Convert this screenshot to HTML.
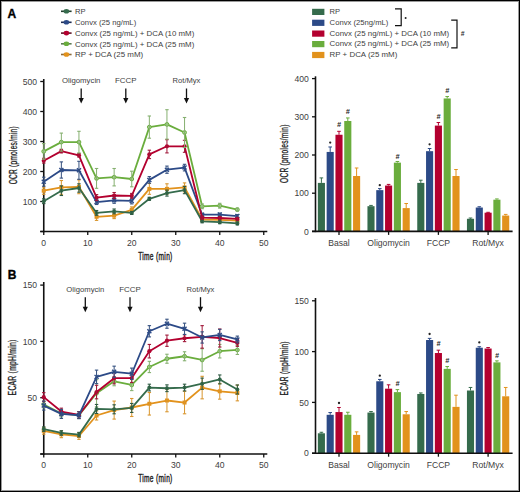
<!DOCTYPE html>
<html><head><meta charset="utf-8"><style>
html,body{margin:0;padding:0;background:#fff;}
#fig{position:relative;width:520px;height:492px;overflow:hidden;font-family:"Liberation Sans",sans-serif;}
#fig svg{display:block;position:absolute;left:0;top:0;}
svg text{font-family:"Liberation Sans",sans-serif;}
#frame{position:absolute;left:0;top:0;width:518px;height:490px;border:1px solid #000;box-shadow:inset 0 0 0 1px #9a9a9a;pointer-events:none;}
</style></head><body><div id="fig">
<svg width="520" height="492" viewBox="0 0 520 492" font-family="Liberation Sans, sans-serif">
<rect x="0" y="0" width="520" height="492" fill="#fff"/>
<text x="7.60" y="17.60" font-size="12" text-anchor="start" fill="#000" font-weight="bold" stroke="#000" stroke-width="0.35">A</text>
<text x="7.80" y="278.80" font-size="12" text-anchor="start" fill="#000" font-weight="bold" stroke="#000" stroke-width="0.35">B</text>
<line x1="61.00" y1="11.30" x2="71.60" y2="11.30" stroke="#203c2c" stroke-width="1.6"/>
<ellipse cx="66.4" cy="11.30" rx="2.8" ry="2.3" fill="#356b4c"/>
<text x="75.00" y="14.25" font-size="8.1" text-anchor="start" fill="#404040" textLength="10.6" lengthAdjust="spacingAndGlyphs">RP</text>
<line x1="61.00" y1="22.30" x2="71.60" y2="22.30" stroke="#1e2c52" stroke-width="1.6"/>
<ellipse cx="66.4" cy="22.30" rx="2.8" ry="2.3" fill="#2c4a87"/>
<text x="75.00" y="25.25" font-size="8.1" text-anchor="start" fill="#404040" textLength="61.2" lengthAdjust="spacingAndGlyphs">Convx (25 ng/mL)</text>
<line x1="61.00" y1="33.10" x2="71.60" y2="33.10" stroke="#5c1424" stroke-width="1.6"/>
<ellipse cx="66.4" cy="33.10" rx="2.8" ry="2.3" fill="#b3002f"/>
<text x="75.00" y="36.05" font-size="8.1" text-anchor="start" fill="#404040" textLength="119.3" lengthAdjust="spacingAndGlyphs">Convx (25 ng/mL) + DCA (10 mM)</text>
<line x1="61.00" y1="43.80" x2="71.60" y2="43.80" stroke="#5d7a52" stroke-width="1.6"/>
<ellipse cx="66.4" cy="43.80" rx="2.8" ry="2.3" fill="#6aad3d"/>
<text x="75.00" y="46.75" font-size="8.1" text-anchor="start" fill="#404040" textLength="119.3" lengthAdjust="spacingAndGlyphs">Convx (25 ng/mL) + DCA (25 mM)</text>
<line x1="61.00" y1="54.50" x2="71.60" y2="54.50" stroke="#8a6a3a" stroke-width="1.6"/>
<ellipse cx="66.4" cy="54.50" rx="2.8" ry="2.3" fill="#e2921c"/>
<text x="75.00" y="57.45" font-size="8.1" text-anchor="start" fill="#404040" textLength="68.2" lengthAdjust="spacingAndGlyphs">RP + DCA (25 mM)</text>
<rect x="312.10" y="8.80" width="12.30" height="6.20" fill="#356b4c"/>
<text x="329.60" y="14.05" font-size="8.1" text-anchor="start" fill="#404040" textLength="10.6" lengthAdjust="spacingAndGlyphs">RP</text>
<rect x="312.10" y="19.70" width="12.30" height="6.20" fill="#2c4a87"/>
<text x="329.60" y="24.95" font-size="8.1" text-anchor="start" fill="#404040" textLength="58.8" lengthAdjust="spacingAndGlyphs">Convx (25ng/mL)</text>
<rect x="312.10" y="30.50" width="12.30" height="6.20" fill="#b3002f"/>
<text x="329.60" y="35.75" font-size="8.1" text-anchor="start" fill="#404040" textLength="119.6" lengthAdjust="spacingAndGlyphs">Convx (25 ng/mL) + DCA (10 mM)</text>
<rect x="312.10" y="41.00" width="12.30" height="6.20" fill="#6aad3d"/>
<text x="329.60" y="46.25" font-size="8.1" text-anchor="start" fill="#404040" textLength="119.6" lengthAdjust="spacingAndGlyphs">Convx (25 ng/mL) + DCA (25 mM)</text>
<rect x="312.10" y="51.90" width="12.30" height="6.20" fill="#e2921c"/>
<text x="329.60" y="57.15" font-size="8.1" text-anchor="start" fill="#404040" textLength="67.7" lengthAdjust="spacingAndGlyphs">RP + DCA (25 mM)</text>
<path d="M395,8.9 L401.2,8.9 L401.2,25.6 L395,25.6" fill="none" stroke="#111" stroke-width="1.2"/>
<circle cx="405.6" cy="18" r="1.0" fill="#222"/>
<path d="M451.2,20.2 L457,20.2 L457,47.8 L451.2,47.8" fill="none" stroke="#111" stroke-width="1.2"/>
<text x="462.60" y="36.20" font-size="6.6" text-anchor="middle" fill="#2a2a2a" font-weight="bold" font-style="italic">#</text>
<line x1="43.75" y1="79.00" x2="43.75" y2="232.25" stroke="#111" stroke-width="1.6"/>
<line x1="40.25" y1="231.50" x2="267.30" y2="231.50" stroke="#111" stroke-width="1.6"/>
<line x1="40.25" y1="81.50" x2="43.75" y2="81.50" stroke="#111" stroke-width="1.3"/>
<text x="37.00" y="84.60" font-size="8.6" text-anchor="end" fill="#404040">500</text>
<line x1="40.25" y1="111.50" x2="43.75" y2="111.50" stroke="#111" stroke-width="1.3"/>
<text x="37.00" y="114.60" font-size="8.6" text-anchor="end" fill="#404040">400</text>
<line x1="40.25" y1="141.50" x2="43.75" y2="141.50" stroke="#111" stroke-width="1.3"/>
<text x="37.00" y="144.60" font-size="8.6" text-anchor="end" fill="#404040">300</text>
<line x1="40.25" y1="171.50" x2="43.75" y2="171.50" stroke="#111" stroke-width="1.3"/>
<text x="37.00" y="174.60" font-size="8.6" text-anchor="end" fill="#404040">200</text>
<line x1="40.25" y1="201.50" x2="43.75" y2="201.50" stroke="#111" stroke-width="1.3"/>
<text x="37.00" y="204.60" font-size="8.6" text-anchor="end" fill="#404040">100</text>
<line x1="40.25" y1="231.50" x2="43.75" y2="231.50" stroke="#111" stroke-width="1.3"/>
<line x1="43.75" y1="231.50" x2="43.75" y2="235.00" stroke="#111" stroke-width="1.3"/>
<text x="43.75" y="245.90" font-size="8.6" text-anchor="middle" fill="#404040">0</text>
<line x1="87.75" y1="231.50" x2="87.75" y2="235.00" stroke="#111" stroke-width="1.3"/>
<text x="87.75" y="245.90" font-size="8.6" text-anchor="middle" fill="#404040">10</text>
<line x1="131.75" y1="231.50" x2="131.75" y2="235.00" stroke="#111" stroke-width="1.3"/>
<text x="131.75" y="245.90" font-size="8.6" text-anchor="middle" fill="#404040">20</text>
<line x1="175.75" y1="231.50" x2="175.75" y2="235.00" stroke="#111" stroke-width="1.3"/>
<text x="175.75" y="245.90" font-size="8.6" text-anchor="middle" fill="#404040">30</text>
<line x1="219.75" y1="231.50" x2="219.75" y2="235.00" stroke="#111" stroke-width="1.3"/>
<text x="219.75" y="245.90" font-size="8.6" text-anchor="middle" fill="#404040">40</text>
<line x1="263.75" y1="231.50" x2="263.75" y2="235.00" stroke="#111" stroke-width="1.3"/>
<text x="263.75" y="245.90" font-size="8.6" text-anchor="middle" fill="#404040">50</text>
<polyline points="43.75,190.70 61.35,187.40 78.95,186.80 96.55,216.80 114.15,215.60 131.75,209.90 149.35,188.90 166.95,188.90 184.55,187.40 202.15,219.50 219.75,219.80 237.35,220.70" fill="none" stroke="#e2921c" stroke-width="1.8" stroke-linejoin="round"/>
<rect x="41.75" y="188.70" width="4" height="4" fill="#e2921c"/>
<rect x="59.35" y="185.40" width="4" height="4" fill="#e2921c"/>
<rect x="76.95" y="184.80" width="4" height="4" fill="#e2921c"/>
<rect x="94.55" y="214.80" width="4" height="4" fill="#e2921c"/>
<rect x="112.15" y="213.60" width="4" height="4" fill="#e2921c"/>
<rect x="129.75" y="207.90" width="4" height="4" fill="#e2921c"/>
<rect x="147.35" y="186.90" width="4" height="4" fill="#e2921c"/>
<rect x="164.95" y="186.90" width="4" height="4" fill="#e2921c"/>
<rect x="182.55" y="185.40" width="4" height="4" fill="#e2921c"/>
<rect x="200.15" y="217.50" width="4" height="4" fill="#e2921c"/>
<rect x="217.75" y="217.80" width="4" height="4" fill="#e2921c"/>
<rect x="235.35" y="218.70" width="4" height="4" fill="#e2921c"/>
<line x1="43.75" y1="187.10" x2="43.75" y2="194.30" stroke="#d9962e" stroke-width="1.0"/>
<line x1="42.05" y1="187.10" x2="45.45" y2="187.10" stroke="#d9962e" stroke-width="1.1"/>
<line x1="42.05" y1="194.30" x2="45.45" y2="194.30" stroke="#d9962e" stroke-width="1.1"/>
<line x1="61.35" y1="180.50" x2="61.35" y2="194.30" stroke="#d9962e" stroke-width="1.0"/>
<line x1="59.65" y1="180.50" x2="63.05" y2="180.50" stroke="#d9962e" stroke-width="1.1"/>
<line x1="59.65" y1="194.30" x2="63.05" y2="194.30" stroke="#d9962e" stroke-width="1.1"/>
<line x1="78.95" y1="179.90" x2="78.95" y2="193.70" stroke="#d9962e" stroke-width="1.0"/>
<line x1="77.25" y1="179.90" x2="80.65" y2="179.90" stroke="#d9962e" stroke-width="1.1"/>
<line x1="77.25" y1="193.70" x2="80.65" y2="193.70" stroke="#d9962e" stroke-width="1.1"/>
<line x1="96.55" y1="213.20" x2="96.55" y2="220.40" stroke="#d9962e" stroke-width="1.0"/>
<line x1="94.85" y1="213.20" x2="98.25" y2="213.20" stroke="#d9962e" stroke-width="1.1"/>
<line x1="94.85" y1="220.40" x2="98.25" y2="220.40" stroke="#d9962e" stroke-width="1.1"/>
<line x1="114.15" y1="212.60" x2="114.15" y2="218.60" stroke="#d9962e" stroke-width="1.0"/>
<line x1="112.45" y1="212.60" x2="115.85" y2="212.60" stroke="#d9962e" stroke-width="1.1"/>
<line x1="112.45" y1="218.60" x2="115.85" y2="218.60" stroke="#d9962e" stroke-width="1.1"/>
<line x1="131.75" y1="206.90" x2="131.75" y2="212.90" stroke="#d9962e" stroke-width="1.0"/>
<line x1="130.05" y1="206.90" x2="133.45" y2="206.90" stroke="#d9962e" stroke-width="1.1"/>
<line x1="130.05" y1="212.90" x2="133.45" y2="212.90" stroke="#d9962e" stroke-width="1.1"/>
<line x1="149.35" y1="183.50" x2="149.35" y2="194.30" stroke="#d9962e" stroke-width="1.0"/>
<line x1="147.65" y1="183.50" x2="151.05" y2="183.50" stroke="#d9962e" stroke-width="1.1"/>
<line x1="147.65" y1="194.30" x2="151.05" y2="194.30" stroke="#d9962e" stroke-width="1.1"/>
<line x1="166.95" y1="183.80" x2="166.95" y2="194.00" stroke="#d9962e" stroke-width="1.0"/>
<line x1="165.25" y1="183.80" x2="168.65" y2="183.80" stroke="#d9962e" stroke-width="1.1"/>
<line x1="165.25" y1="194.00" x2="168.65" y2="194.00" stroke="#d9962e" stroke-width="1.1"/>
<line x1="184.55" y1="182.90" x2="184.55" y2="191.90" stroke="#d9962e" stroke-width="1.0"/>
<line x1="182.85" y1="182.90" x2="186.25" y2="182.90" stroke="#d9962e" stroke-width="1.1"/>
<line x1="182.85" y1="191.90" x2="186.25" y2="191.90" stroke="#d9962e" stroke-width="1.1"/>
<line x1="202.15" y1="218.00" x2="202.15" y2="221.00" stroke="#d9962e" stroke-width="1.0"/>
<line x1="200.45" y1="218.00" x2="203.85" y2="218.00" stroke="#d9962e" stroke-width="1.1"/>
<line x1="200.45" y1="221.00" x2="203.85" y2="221.00" stroke="#d9962e" stroke-width="1.1"/>
<line x1="219.75" y1="218.30" x2="219.75" y2="221.30" stroke="#d9962e" stroke-width="1.0"/>
<line x1="218.05" y1="218.30" x2="221.45" y2="218.30" stroke="#d9962e" stroke-width="1.1"/>
<line x1="218.05" y1="221.30" x2="221.45" y2="221.30" stroke="#d9962e" stroke-width="1.1"/>
<line x1="237.35" y1="219.20" x2="237.35" y2="222.20" stroke="#d9962e" stroke-width="1.0"/>
<line x1="235.65" y1="219.20" x2="239.05" y2="219.20" stroke="#d9962e" stroke-width="1.1"/>
<line x1="235.65" y1="222.20" x2="239.05" y2="222.20" stroke="#d9962e" stroke-width="1.1"/>
<polyline points="43.75,201.20 61.35,190.70 78.95,188.00 96.55,212.90 114.15,211.40 131.75,212.90 149.35,198.80 166.95,193.10 184.55,190.10 202.15,221.30 219.75,222.20 237.35,223.40" fill="none" stroke="#356b4c" stroke-width="1.8" stroke-linejoin="round"/>
<circle cx="43.75" cy="201.20" r="2.0" fill="#356b4c"/>
<circle cx="61.35" cy="190.70" r="2.0" fill="#356b4c"/>
<circle cx="78.95" cy="188.00" r="2.0" fill="#356b4c"/>
<circle cx="96.55" cy="212.90" r="2.0" fill="#356b4c"/>
<circle cx="114.15" cy="211.40" r="2.0" fill="#356b4c"/>
<circle cx="131.75" cy="212.90" r="2.0" fill="#356b4c"/>
<circle cx="149.35" cy="198.80" r="2.0" fill="#356b4c"/>
<circle cx="166.95" cy="193.10" r="2.0" fill="#356b4c"/>
<circle cx="184.55" cy="190.10" r="2.0" fill="#356b4c"/>
<circle cx="202.15" cy="221.30" r="2.0" fill="#356b4c"/>
<circle cx="219.75" cy="222.20" r="2.0" fill="#356b4c"/>
<circle cx="237.35" cy="223.40" r="2.0" fill="#356b4c"/>
<line x1="43.75" y1="198.80" x2="43.75" y2="203.60" stroke="#2e5a42" stroke-width="1.0"/>
<line x1="42.05" y1="198.80" x2="45.45" y2="198.80" stroke="#2e5a42" stroke-width="1.1"/>
<line x1="42.05" y1="203.60" x2="45.45" y2="203.60" stroke="#2e5a42" stroke-width="1.1"/>
<line x1="61.35" y1="185.90" x2="61.35" y2="195.50" stroke="#2e5a42" stroke-width="1.0"/>
<line x1="59.65" y1="185.90" x2="63.05" y2="185.90" stroke="#2e5a42" stroke-width="1.1"/>
<line x1="59.65" y1="195.50" x2="63.05" y2="195.50" stroke="#2e5a42" stroke-width="1.1"/>
<line x1="78.95" y1="183.80" x2="78.95" y2="192.20" stroke="#2e5a42" stroke-width="1.0"/>
<line x1="77.25" y1="183.80" x2="80.65" y2="183.80" stroke="#2e5a42" stroke-width="1.1"/>
<line x1="77.25" y1="192.20" x2="80.65" y2="192.20" stroke="#2e5a42" stroke-width="1.1"/>
<line x1="96.55" y1="210.50" x2="96.55" y2="215.30" stroke="#2e5a42" stroke-width="1.0"/>
<line x1="94.85" y1="210.50" x2="98.25" y2="210.50" stroke="#2e5a42" stroke-width="1.1"/>
<line x1="94.85" y1="215.30" x2="98.25" y2="215.30" stroke="#2e5a42" stroke-width="1.1"/>
<line x1="114.15" y1="209.00" x2="114.15" y2="213.80" stroke="#2e5a42" stroke-width="1.0"/>
<line x1="112.45" y1="209.00" x2="115.85" y2="209.00" stroke="#2e5a42" stroke-width="1.1"/>
<line x1="112.45" y1="213.80" x2="115.85" y2="213.80" stroke="#2e5a42" stroke-width="1.1"/>
<line x1="131.75" y1="211.40" x2="131.75" y2="214.40" stroke="#2e5a42" stroke-width="1.0"/>
<line x1="130.05" y1="211.40" x2="133.45" y2="211.40" stroke="#2e5a42" stroke-width="1.1"/>
<line x1="130.05" y1="214.40" x2="133.45" y2="214.40" stroke="#2e5a42" stroke-width="1.1"/>
<line x1="149.35" y1="197.30" x2="149.35" y2="200.30" stroke="#2e5a42" stroke-width="1.0"/>
<line x1="147.65" y1="197.30" x2="151.05" y2="197.30" stroke="#2e5a42" stroke-width="1.1"/>
<line x1="147.65" y1="200.30" x2="151.05" y2="200.30" stroke="#2e5a42" stroke-width="1.1"/>
<line x1="166.95" y1="190.10" x2="166.95" y2="196.10" stroke="#2e5a42" stroke-width="1.0"/>
<line x1="165.25" y1="190.10" x2="168.65" y2="190.10" stroke="#2e5a42" stroke-width="1.1"/>
<line x1="165.25" y1="196.10" x2="168.65" y2="196.10" stroke="#2e5a42" stroke-width="1.1"/>
<line x1="184.55" y1="186.50" x2="184.55" y2="193.70" stroke="#2e5a42" stroke-width="1.0"/>
<line x1="182.85" y1="186.50" x2="186.25" y2="186.50" stroke="#2e5a42" stroke-width="1.1"/>
<line x1="182.85" y1="193.70" x2="186.25" y2="193.70" stroke="#2e5a42" stroke-width="1.1"/>
<line x1="202.15" y1="219.80" x2="202.15" y2="222.80" stroke="#2e5a42" stroke-width="1.0"/>
<line x1="200.45" y1="219.80" x2="203.85" y2="219.80" stroke="#2e5a42" stroke-width="1.1"/>
<line x1="200.45" y1="222.80" x2="203.85" y2="222.80" stroke="#2e5a42" stroke-width="1.1"/>
<line x1="219.75" y1="220.70" x2="219.75" y2="223.70" stroke="#2e5a42" stroke-width="1.0"/>
<line x1="218.05" y1="220.70" x2="221.45" y2="220.70" stroke="#2e5a42" stroke-width="1.1"/>
<line x1="218.05" y1="223.70" x2="221.45" y2="223.70" stroke="#2e5a42" stroke-width="1.1"/>
<line x1="237.35" y1="221.90" x2="237.35" y2="224.90" stroke="#2e5a42" stroke-width="1.0"/>
<line x1="235.65" y1="221.90" x2="239.05" y2="221.90" stroke="#2e5a42" stroke-width="1.1"/>
<line x1="235.65" y1="224.90" x2="239.05" y2="224.90" stroke="#2e5a42" stroke-width="1.1"/>
<polyline points="43.75,181.70 61.35,170.00 78.95,170.30 96.55,202.10 114.15,200.30 131.75,200.90 149.35,179.90 166.95,169.70 184.55,167.60 202.15,214.70 219.75,214.55 237.35,216.05" fill="none" stroke="#2c4a87" stroke-width="1.8" stroke-linejoin="round"/>
<path d="M41.75,179.70 L45.75,183.70 M45.75,179.70 L41.75,183.70" stroke="#2c4a87" stroke-width="1.4"/>
<path d="M59.35,168.00 L63.35,172.00 M63.35,168.00 L59.35,172.00" stroke="#2c4a87" stroke-width="1.4"/>
<path d="M76.95,168.30 L80.95,172.30 M80.95,168.30 L76.95,172.30" stroke="#2c4a87" stroke-width="1.4"/>
<path d="M94.55,200.10 L98.55,204.10 M98.55,200.10 L94.55,204.10" stroke="#2c4a87" stroke-width="1.4"/>
<path d="M112.15,198.30 L116.15,202.30 M116.15,198.30 L112.15,202.30" stroke="#2c4a87" stroke-width="1.4"/>
<path d="M129.75,198.90 L133.75,202.90 M133.75,198.90 L129.75,202.90" stroke="#2c4a87" stroke-width="1.4"/>
<path d="M147.35,177.90 L151.35,181.90 M151.35,177.90 L147.35,181.90" stroke="#2c4a87" stroke-width="1.4"/>
<path d="M164.95,167.70 L168.95,171.70 M168.95,167.70 L164.95,171.70" stroke="#2c4a87" stroke-width="1.4"/>
<path d="M182.55,165.60 L186.55,169.60 M186.55,165.60 L182.55,169.60" stroke="#2c4a87" stroke-width="1.4"/>
<path d="M200.15,212.70 L204.15,216.70 M204.15,212.70 L200.15,216.70" stroke="#2c4a87" stroke-width="1.4"/>
<path d="M217.75,212.55 L221.75,216.55 M221.75,212.55 L217.75,216.55" stroke="#2c4a87" stroke-width="1.4"/>
<path d="M235.35,214.05 L239.35,218.05 M239.35,214.05 L235.35,218.05" stroke="#2c4a87" stroke-width="1.4"/>
<line x1="43.75" y1="177.20" x2="43.75" y2="186.20" stroke="#34507f" stroke-width="1.0"/>
<line x1="42.05" y1="177.20" x2="45.45" y2="177.20" stroke="#34507f" stroke-width="1.1"/>
<line x1="42.05" y1="186.20" x2="45.45" y2="186.20" stroke="#34507f" stroke-width="1.1"/>
<line x1="61.35" y1="161.90" x2="61.35" y2="178.10" stroke="#34507f" stroke-width="1.0"/>
<line x1="59.65" y1="161.90" x2="63.05" y2="161.90" stroke="#34507f" stroke-width="1.1"/>
<line x1="59.65" y1="178.10" x2="63.05" y2="178.10" stroke="#34507f" stroke-width="1.1"/>
<line x1="78.95" y1="161.30" x2="78.95" y2="179.30" stroke="#34507f" stroke-width="1.0"/>
<line x1="77.25" y1="161.30" x2="80.65" y2="161.30" stroke="#34507f" stroke-width="1.1"/>
<line x1="77.25" y1="179.30" x2="80.65" y2="179.30" stroke="#34507f" stroke-width="1.1"/>
<line x1="96.55" y1="199.70" x2="96.55" y2="204.50" stroke="#34507f" stroke-width="1.0"/>
<line x1="94.85" y1="199.70" x2="98.25" y2="199.70" stroke="#34507f" stroke-width="1.1"/>
<line x1="94.85" y1="204.50" x2="98.25" y2="204.50" stroke="#34507f" stroke-width="1.1"/>
<line x1="114.15" y1="197.30" x2="114.15" y2="203.30" stroke="#34507f" stroke-width="1.0"/>
<line x1="112.45" y1="197.30" x2="115.85" y2="197.30" stroke="#34507f" stroke-width="1.1"/>
<line x1="112.45" y1="203.30" x2="115.85" y2="203.30" stroke="#34507f" stroke-width="1.1"/>
<line x1="131.75" y1="197.90" x2="131.75" y2="203.90" stroke="#34507f" stroke-width="1.0"/>
<line x1="130.05" y1="197.90" x2="133.45" y2="197.90" stroke="#34507f" stroke-width="1.1"/>
<line x1="130.05" y1="203.90" x2="133.45" y2="203.90" stroke="#34507f" stroke-width="1.1"/>
<line x1="149.35" y1="176.60" x2="149.35" y2="183.20" stroke="#34507f" stroke-width="1.0"/>
<line x1="147.65" y1="176.60" x2="151.05" y2="176.60" stroke="#34507f" stroke-width="1.1"/>
<line x1="147.65" y1="183.20" x2="151.05" y2="183.20" stroke="#34507f" stroke-width="1.1"/>
<line x1="166.95" y1="166.10" x2="166.95" y2="173.30" stroke="#34507f" stroke-width="1.0"/>
<line x1="165.25" y1="166.10" x2="168.65" y2="166.10" stroke="#34507f" stroke-width="1.1"/>
<line x1="165.25" y1="173.30" x2="168.65" y2="173.30" stroke="#34507f" stroke-width="1.1"/>
<line x1="184.55" y1="164.30" x2="184.55" y2="170.90" stroke="#34507f" stroke-width="1.0"/>
<line x1="182.85" y1="164.30" x2="186.25" y2="164.30" stroke="#34507f" stroke-width="1.1"/>
<line x1="182.85" y1="170.90" x2="186.25" y2="170.90" stroke="#34507f" stroke-width="1.1"/>
<line x1="202.15" y1="213.20" x2="202.15" y2="216.20" stroke="#34507f" stroke-width="1.0"/>
<line x1="200.45" y1="213.20" x2="203.85" y2="213.20" stroke="#34507f" stroke-width="1.1"/>
<line x1="200.45" y1="216.20" x2="203.85" y2="216.20" stroke="#34507f" stroke-width="1.1"/>
<line x1="219.75" y1="213.05" x2="219.75" y2="216.05" stroke="#34507f" stroke-width="1.0"/>
<line x1="218.05" y1="213.05" x2="221.45" y2="213.05" stroke="#34507f" stroke-width="1.1"/>
<line x1="218.05" y1="216.05" x2="221.45" y2="216.05" stroke="#34507f" stroke-width="1.1"/>
<line x1="237.35" y1="214.55" x2="237.35" y2="217.55" stroke="#34507f" stroke-width="1.0"/>
<line x1="235.65" y1="214.55" x2="239.05" y2="214.55" stroke="#34507f" stroke-width="1.1"/>
<line x1="235.65" y1="217.55" x2="239.05" y2="217.55" stroke="#34507f" stroke-width="1.1"/>
<polyline points="43.75,160.70 61.35,151.10 78.95,155.30 96.55,197.60 114.15,195.50 131.75,195.80 149.35,154.40 166.95,146.30 184.55,146.30 202.15,217.70 219.75,218.00 237.35,218.90" fill="none" stroke="#b3002f" stroke-width="1.8" stroke-linejoin="round"/>
<circle cx="43.75" cy="160.70" r="2.1" fill="#b3002f"/>
<circle cx="61.35" cy="151.10" r="2.1" fill="#b3002f"/>
<circle cx="78.95" cy="155.30" r="2.1" fill="#b3002f"/>
<circle cx="96.55" cy="197.60" r="2.1" fill="#b3002f"/>
<circle cx="114.15" cy="195.50" r="2.1" fill="#b3002f"/>
<circle cx="131.75" cy="195.80" r="2.1" fill="#b3002f"/>
<circle cx="149.35" cy="154.40" r="2.1" fill="#b3002f"/>
<circle cx="166.95" cy="146.30" r="2.1" fill="#b3002f"/>
<circle cx="184.55" cy="146.30" r="2.1" fill="#b3002f"/>
<circle cx="202.15" cy="217.70" r="2.1" fill="#b3002f"/>
<circle cx="219.75" cy="218.00" r="2.1" fill="#b3002f"/>
<circle cx="237.35" cy="218.90" r="2.1" fill="#b3002f"/>
<line x1="43.75" y1="158.30" x2="43.75" y2="163.10" stroke="#a01638" stroke-width="1.0"/>
<line x1="42.05" y1="158.30" x2="45.45" y2="158.30" stroke="#a01638" stroke-width="1.1"/>
<line x1="42.05" y1="163.10" x2="45.45" y2="163.10" stroke="#a01638" stroke-width="1.1"/>
<line x1="61.35" y1="149.30" x2="61.35" y2="152.90" stroke="#a01638" stroke-width="1.0"/>
<line x1="59.65" y1="149.30" x2="63.05" y2="149.30" stroke="#a01638" stroke-width="1.1"/>
<line x1="59.65" y1="152.90" x2="63.05" y2="152.90" stroke="#a01638" stroke-width="1.1"/>
<line x1="78.95" y1="153.50" x2="78.95" y2="157.10" stroke="#a01638" stroke-width="1.0"/>
<line x1="77.25" y1="153.50" x2="80.65" y2="153.50" stroke="#a01638" stroke-width="1.1"/>
<line x1="77.25" y1="157.10" x2="80.65" y2="157.10" stroke="#a01638" stroke-width="1.1"/>
<line x1="96.55" y1="194.60" x2="96.55" y2="200.60" stroke="#a01638" stroke-width="1.0"/>
<line x1="94.85" y1="194.60" x2="98.25" y2="194.60" stroke="#a01638" stroke-width="1.1"/>
<line x1="94.85" y1="200.60" x2="98.25" y2="200.60" stroke="#a01638" stroke-width="1.1"/>
<line x1="114.15" y1="192.50" x2="114.15" y2="198.50" stroke="#a01638" stroke-width="1.0"/>
<line x1="112.45" y1="192.50" x2="115.85" y2="192.50" stroke="#a01638" stroke-width="1.1"/>
<line x1="112.45" y1="198.50" x2="115.85" y2="198.50" stroke="#a01638" stroke-width="1.1"/>
<line x1="131.75" y1="193.40" x2="131.75" y2="198.20" stroke="#a01638" stroke-width="1.0"/>
<line x1="130.05" y1="193.40" x2="133.45" y2="193.40" stroke="#a01638" stroke-width="1.1"/>
<line x1="130.05" y1="198.20" x2="133.45" y2="198.20" stroke="#a01638" stroke-width="1.1"/>
<line x1="149.35" y1="150.20" x2="149.35" y2="158.60" stroke="#a01638" stroke-width="1.0"/>
<line x1="147.65" y1="150.20" x2="151.05" y2="150.20" stroke="#a01638" stroke-width="1.1"/>
<line x1="147.65" y1="158.60" x2="151.05" y2="158.60" stroke="#a01638" stroke-width="1.1"/>
<line x1="166.95" y1="139.70" x2="166.95" y2="152.90" stroke="#a01638" stroke-width="1.0"/>
<line x1="165.25" y1="139.70" x2="168.65" y2="139.70" stroke="#a01638" stroke-width="1.1"/>
<line x1="165.25" y1="152.90" x2="168.65" y2="152.90" stroke="#a01638" stroke-width="1.1"/>
<line x1="184.55" y1="140.30" x2="184.55" y2="152.30" stroke="#a01638" stroke-width="1.0"/>
<line x1="182.85" y1="140.30" x2="186.25" y2="140.30" stroke="#a01638" stroke-width="1.1"/>
<line x1="182.85" y1="152.30" x2="186.25" y2="152.30" stroke="#a01638" stroke-width="1.1"/>
<line x1="202.15" y1="216.20" x2="202.15" y2="219.20" stroke="#a01638" stroke-width="1.0"/>
<line x1="200.45" y1="216.20" x2="203.85" y2="216.20" stroke="#a01638" stroke-width="1.1"/>
<line x1="200.45" y1="219.20" x2="203.85" y2="219.20" stroke="#a01638" stroke-width="1.1"/>
<line x1="219.75" y1="216.50" x2="219.75" y2="219.50" stroke="#a01638" stroke-width="1.0"/>
<line x1="218.05" y1="216.50" x2="221.45" y2="216.50" stroke="#a01638" stroke-width="1.1"/>
<line x1="218.05" y1="219.50" x2="221.45" y2="219.50" stroke="#a01638" stroke-width="1.1"/>
<line x1="237.35" y1="217.40" x2="237.35" y2="220.40" stroke="#a01638" stroke-width="1.0"/>
<line x1="235.65" y1="217.40" x2="239.05" y2="217.40" stroke="#a01638" stroke-width="1.1"/>
<line x1="235.65" y1="220.40" x2="239.05" y2="220.40" stroke="#a01638" stroke-width="1.1"/>
<polyline points="43.75,151.40 61.35,142.10 78.95,142.10 96.55,178.40 114.15,177.20 131.75,179.00 149.35,127.10 166.95,124.40 184.55,132.50 202.15,206.30 219.75,205.70 237.35,209.60" fill="none" stroke="#6aad3d" stroke-width="1.8" stroke-linejoin="round"/>
<circle cx="43.75" cy="151.40" r="1.9" fill="#a9d394" stroke="#6aad3d" stroke-width="1.0"/>
<circle cx="61.35" cy="142.10" r="1.9" fill="#a9d394" stroke="#6aad3d" stroke-width="1.0"/>
<circle cx="78.95" cy="142.10" r="1.9" fill="#a9d394" stroke="#6aad3d" stroke-width="1.0"/>
<circle cx="96.55" cy="178.40" r="1.9" fill="#a9d394" stroke="#6aad3d" stroke-width="1.0"/>
<circle cx="114.15" cy="177.20" r="1.9" fill="#a9d394" stroke="#6aad3d" stroke-width="1.0"/>
<circle cx="131.75" cy="179.00" r="1.9" fill="#a9d394" stroke="#6aad3d" stroke-width="1.0"/>
<circle cx="149.35" cy="127.10" r="1.9" fill="#a9d394" stroke="#6aad3d" stroke-width="1.0"/>
<circle cx="166.95" cy="124.40" r="1.9" fill="#a9d394" stroke="#6aad3d" stroke-width="1.0"/>
<circle cx="184.55" cy="132.50" r="1.9" fill="#a9d394" stroke="#6aad3d" stroke-width="1.0"/>
<circle cx="202.15" cy="206.30" r="1.9" fill="#a9d394" stroke="#6aad3d" stroke-width="1.0"/>
<circle cx="219.75" cy="205.70" r="1.9" fill="#a9d394" stroke="#6aad3d" stroke-width="1.0"/>
<circle cx="237.35" cy="209.60" r="1.9" fill="#a9d394" stroke="#6aad3d" stroke-width="1.0"/>
<line x1="43.75" y1="143.60" x2="43.75" y2="159.20" stroke="#86b070" stroke-width="1.0"/>
<line x1="42.05" y1="143.60" x2="45.45" y2="143.60" stroke="#86b070" stroke-width="1.1"/>
<line x1="42.05" y1="159.20" x2="45.45" y2="159.20" stroke="#86b070" stroke-width="1.1"/>
<line x1="61.35" y1="133.10" x2="61.35" y2="151.10" stroke="#86b070" stroke-width="1.0"/>
<line x1="59.65" y1="133.10" x2="63.05" y2="133.10" stroke="#86b070" stroke-width="1.1"/>
<line x1="59.65" y1="151.10" x2="63.05" y2="151.10" stroke="#86b070" stroke-width="1.1"/>
<line x1="78.95" y1="131.30" x2="78.95" y2="152.90" stroke="#86b070" stroke-width="1.0"/>
<line x1="77.25" y1="131.30" x2="80.65" y2="131.30" stroke="#86b070" stroke-width="1.1"/>
<line x1="77.25" y1="152.90" x2="80.65" y2="152.90" stroke="#86b070" stroke-width="1.1"/>
<line x1="96.55" y1="168.50" x2="96.55" y2="188.30" stroke="#86b070" stroke-width="1.0"/>
<line x1="94.85" y1="168.50" x2="98.25" y2="168.50" stroke="#86b070" stroke-width="1.1"/>
<line x1="94.85" y1="188.30" x2="98.25" y2="188.30" stroke="#86b070" stroke-width="1.1"/>
<line x1="114.15" y1="168.50" x2="114.15" y2="185.90" stroke="#86b070" stroke-width="1.0"/>
<line x1="112.45" y1="168.50" x2="115.85" y2="168.50" stroke="#86b070" stroke-width="1.1"/>
<line x1="112.45" y1="185.90" x2="115.85" y2="185.90" stroke="#86b070" stroke-width="1.1"/>
<line x1="131.75" y1="171.20" x2="131.75" y2="186.80" stroke="#86b070" stroke-width="1.0"/>
<line x1="130.05" y1="171.20" x2="133.45" y2="171.20" stroke="#86b070" stroke-width="1.1"/>
<line x1="130.05" y1="186.80" x2="133.45" y2="186.80" stroke="#86b070" stroke-width="1.1"/>
<line x1="149.35" y1="116.00" x2="149.35" y2="138.20" stroke="#86b070" stroke-width="1.0"/>
<line x1="147.65" y1="116.00" x2="151.05" y2="116.00" stroke="#86b070" stroke-width="1.1"/>
<line x1="147.65" y1="138.20" x2="151.05" y2="138.20" stroke="#86b070" stroke-width="1.1"/>
<line x1="166.95" y1="109.70" x2="166.95" y2="139.10" stroke="#86b070" stroke-width="1.0"/>
<line x1="165.25" y1="109.70" x2="168.65" y2="109.70" stroke="#86b070" stroke-width="1.1"/>
<line x1="165.25" y1="139.10" x2="168.65" y2="139.10" stroke="#86b070" stroke-width="1.1"/>
<line x1="184.55" y1="117.50" x2="184.55" y2="147.50" stroke="#86b070" stroke-width="1.0"/>
<line x1="182.85" y1="117.50" x2="186.25" y2="117.50" stroke="#86b070" stroke-width="1.1"/>
<line x1="182.85" y1="147.50" x2="186.25" y2="147.50" stroke="#86b070" stroke-width="1.1"/>
<line x1="202.15" y1="203.90" x2="202.15" y2="208.70" stroke="#86b070" stroke-width="1.0"/>
<line x1="200.45" y1="203.90" x2="203.85" y2="203.90" stroke="#86b070" stroke-width="1.1"/>
<line x1="200.45" y1="208.70" x2="203.85" y2="208.70" stroke="#86b070" stroke-width="1.1"/>
<line x1="219.75" y1="203.30" x2="219.75" y2="208.10" stroke="#86b070" stroke-width="1.0"/>
<line x1="218.05" y1="203.30" x2="221.45" y2="203.30" stroke="#86b070" stroke-width="1.1"/>
<line x1="218.05" y1="208.10" x2="221.45" y2="208.10" stroke="#86b070" stroke-width="1.1"/>
<line x1="237.35" y1="208.10" x2="237.35" y2="211.10" stroke="#86b070" stroke-width="1.0"/>
<line x1="235.65" y1="208.10" x2="239.05" y2="208.10" stroke="#86b070" stroke-width="1.1"/>
<line x1="235.65" y1="211.10" x2="239.05" y2="211.10" stroke="#86b070" stroke-width="1.1"/>
<text x="81.20" y="83.00" font-size="8.1" text-anchor="middle" fill="#404040" textLength="38.5" lengthAdjust="spacingAndGlyphs">Oligomycin</text>
<line x1="81.20" y1="88.50" x2="81.20" y2="99.50" stroke="#111" stroke-width="1.3"/>
<path d="M78.60,98.00 L83.80,98.00 L81.20,103.50 Z" fill="#111"/>
<text x="125.80" y="83.00" font-size="8.1" text-anchor="middle" fill="#404040" textLength="21.6" lengthAdjust="spacingAndGlyphs">FCCP</text>
<line x1="125.80" y1="88.50" x2="125.80" y2="99.50" stroke="#111" stroke-width="1.3"/>
<path d="M123.20,98.00 L128.40,98.00 L125.80,103.50 Z" fill="#111"/>
<text x="186.50" y="83.00" font-size="8.1" text-anchor="middle" fill="#404040" textLength="27.8" lengthAdjust="spacingAndGlyphs">Rot/Myx</text>
<line x1="186.50" y1="88.50" x2="186.50" y2="99.50" stroke="#111" stroke-width="1.3"/>
<path d="M183.90,98.00 L189.10,98.00 L186.50,103.50 Z" fill="#111"/>
<text transform="translate(13.60,155.20) rotate(-90)" x="0" y="0" font-size="10.6" letter-spacing="0.4" text-anchor="middle" fill="#222" stroke="#222" stroke-width="0.3" textLength="58.3" lengthAdjust="spacingAndGlyphs" dy="3">OCR (pmoles/min)</text>
<text x="155.40" y="259.60" font-size="10.2" text-anchor="middle" fill="#222" textLength="34.5" lengthAdjust="spacingAndGlyphs" stroke="#222" stroke-width="0.4" letter-spacing="0.5">Time (min)</text>
<line x1="43.75" y1="282.00" x2="43.75" y2="454.75" stroke="#111" stroke-width="1.6"/>
<line x1="40.25" y1="454.00" x2="267.30" y2="454.00" stroke="#111" stroke-width="1.6"/>
<line x1="40.25" y1="285.10" x2="43.75" y2="285.10" stroke="#111" stroke-width="1.3"/>
<text x="37.00" y="288.20" font-size="8.6" text-anchor="end" fill="#404040">150</text>
<line x1="40.25" y1="341.40" x2="43.75" y2="341.40" stroke="#111" stroke-width="1.3"/>
<text x="37.00" y="344.50" font-size="8.6" text-anchor="end" fill="#404040">100</text>
<line x1="40.25" y1="397.70" x2="43.75" y2="397.70" stroke="#111" stroke-width="1.3"/>
<text x="37.00" y="400.80" font-size="8.6" text-anchor="end" fill="#404040">50</text>
<line x1="40.25" y1="454.00" x2="43.75" y2="454.00" stroke="#111" stroke-width="1.3"/>
<line x1="43.75" y1="454.00" x2="43.75" y2="457.50" stroke="#111" stroke-width="1.3"/>
<text x="43.75" y="468.00" font-size="8.6" text-anchor="middle" fill="#404040">0</text>
<line x1="87.75" y1="454.00" x2="87.75" y2="457.50" stroke="#111" stroke-width="1.3"/>
<text x="87.75" y="468.00" font-size="8.6" text-anchor="middle" fill="#404040">10</text>
<line x1="131.75" y1="454.00" x2="131.75" y2="457.50" stroke="#111" stroke-width="1.3"/>
<text x="131.75" y="468.00" font-size="8.6" text-anchor="middle" fill="#404040">20</text>
<line x1="175.75" y1="454.00" x2="175.75" y2="457.50" stroke="#111" stroke-width="1.3"/>
<text x="175.75" y="468.00" font-size="8.6" text-anchor="middle" fill="#404040">30</text>
<line x1="219.75" y1="454.00" x2="219.75" y2="457.50" stroke="#111" stroke-width="1.3"/>
<text x="219.75" y="468.00" font-size="8.6" text-anchor="middle" fill="#404040">40</text>
<line x1="263.75" y1="454.00" x2="263.75" y2="457.50" stroke="#111" stroke-width="1.3"/>
<text x="263.75" y="468.00" font-size="8.6" text-anchor="middle" fill="#404040">50</text>
<polyline points="43.75,404.46 61.35,413.46 78.95,415.15 96.55,393.20 114.15,381.26 131.75,384.98 149.35,366.96 166.95,358.74 184.55,356.26 202.15,359.98 219.75,351.20 237.35,349.96" fill="none" stroke="#6aad3d" stroke-width="1.8" stroke-linejoin="round"/>
<circle cx="43.75" cy="404.46" r="1.9" fill="#a9d394" stroke="#6aad3d" stroke-width="1.0"/>
<circle cx="61.35" cy="413.46" r="1.9" fill="#a9d394" stroke="#6aad3d" stroke-width="1.0"/>
<circle cx="78.95" cy="415.15" r="1.9" fill="#a9d394" stroke="#6aad3d" stroke-width="1.0"/>
<circle cx="96.55" cy="393.20" r="1.9" fill="#a9d394" stroke="#6aad3d" stroke-width="1.0"/>
<circle cx="114.15" cy="381.26" r="1.9" fill="#a9d394" stroke="#6aad3d" stroke-width="1.0"/>
<circle cx="131.75" cy="384.98" r="1.9" fill="#a9d394" stroke="#6aad3d" stroke-width="1.0"/>
<circle cx="149.35" cy="366.96" r="1.9" fill="#a9d394" stroke="#6aad3d" stroke-width="1.0"/>
<circle cx="166.95" cy="358.74" r="1.9" fill="#a9d394" stroke="#6aad3d" stroke-width="1.0"/>
<circle cx="184.55" cy="356.26" r="1.9" fill="#a9d394" stroke="#6aad3d" stroke-width="1.0"/>
<circle cx="202.15" cy="359.98" r="1.9" fill="#a9d394" stroke="#6aad3d" stroke-width="1.0"/>
<circle cx="219.75" cy="351.20" r="1.9" fill="#a9d394" stroke="#6aad3d" stroke-width="1.0"/>
<circle cx="237.35" cy="349.96" r="1.9" fill="#a9d394" stroke="#6aad3d" stroke-width="1.0"/>
<line x1="43.75" y1="401.08" x2="43.75" y2="407.83" stroke="#86b070" stroke-width="1.0"/>
<line x1="42.05" y1="401.08" x2="45.45" y2="401.08" stroke="#86b070" stroke-width="1.1"/>
<line x1="42.05" y1="407.83" x2="45.45" y2="407.83" stroke="#86b070" stroke-width="1.1"/>
<line x1="61.35" y1="410.09" x2="61.35" y2="416.84" stroke="#86b070" stroke-width="1.0"/>
<line x1="59.65" y1="410.09" x2="63.05" y2="410.09" stroke="#86b070" stroke-width="1.1"/>
<line x1="59.65" y1="416.84" x2="63.05" y2="416.84" stroke="#86b070" stroke-width="1.1"/>
<line x1="78.95" y1="411.77" x2="78.95" y2="418.53" stroke="#86b070" stroke-width="1.0"/>
<line x1="77.25" y1="411.77" x2="80.65" y2="411.77" stroke="#86b070" stroke-width="1.1"/>
<line x1="77.25" y1="418.53" x2="80.65" y2="418.53" stroke="#86b070" stroke-width="1.1"/>
<line x1="96.55" y1="379.68" x2="96.55" y2="406.71" stroke="#86b070" stroke-width="1.0"/>
<line x1="94.85" y1="379.68" x2="98.25" y2="379.68" stroke="#86b070" stroke-width="1.1"/>
<line x1="94.85" y1="406.71" x2="98.25" y2="406.71" stroke="#86b070" stroke-width="1.1"/>
<line x1="114.15" y1="376.76" x2="114.15" y2="385.76" stroke="#86b070" stroke-width="1.0"/>
<line x1="112.45" y1="376.76" x2="115.85" y2="376.76" stroke="#86b070" stroke-width="1.1"/>
<line x1="112.45" y1="385.76" x2="115.85" y2="385.76" stroke="#86b070" stroke-width="1.1"/>
<line x1="131.75" y1="379.35" x2="131.75" y2="390.61" stroke="#86b070" stroke-width="1.0"/>
<line x1="130.05" y1="379.35" x2="133.45" y2="379.35" stroke="#86b070" stroke-width="1.1"/>
<line x1="130.05" y1="390.61" x2="133.45" y2="390.61" stroke="#86b070" stroke-width="1.1"/>
<line x1="149.35" y1="361.33" x2="149.35" y2="372.59" stroke="#86b070" stroke-width="1.0"/>
<line x1="147.65" y1="361.33" x2="151.05" y2="361.33" stroke="#86b070" stroke-width="1.1"/>
<line x1="147.65" y1="372.59" x2="151.05" y2="372.59" stroke="#86b070" stroke-width="1.1"/>
<line x1="166.95" y1="354.24" x2="166.95" y2="363.24" stroke="#86b070" stroke-width="1.0"/>
<line x1="165.25" y1="354.24" x2="168.65" y2="354.24" stroke="#86b070" stroke-width="1.1"/>
<line x1="165.25" y1="363.24" x2="168.65" y2="363.24" stroke="#86b070" stroke-width="1.1"/>
<line x1="184.55" y1="351.76" x2="184.55" y2="360.77" stroke="#86b070" stroke-width="1.0"/>
<line x1="182.85" y1="351.76" x2="186.25" y2="351.76" stroke="#86b070" stroke-width="1.1"/>
<line x1="182.85" y1="360.77" x2="186.25" y2="360.77" stroke="#86b070" stroke-width="1.1"/>
<line x1="202.15" y1="348.72" x2="202.15" y2="371.24" stroke="#86b070" stroke-width="1.0"/>
<line x1="200.45" y1="348.72" x2="203.85" y2="348.72" stroke="#86b070" stroke-width="1.1"/>
<line x1="200.45" y1="371.24" x2="203.85" y2="371.24" stroke="#86b070" stroke-width="1.1"/>
<line x1="219.75" y1="344.44" x2="219.75" y2="357.95" stroke="#86b070" stroke-width="1.0"/>
<line x1="218.05" y1="344.44" x2="221.45" y2="344.44" stroke="#86b070" stroke-width="1.1"/>
<line x1="218.05" y1="357.95" x2="221.45" y2="357.95" stroke="#86b070" stroke-width="1.1"/>
<line x1="237.35" y1="345.45" x2="237.35" y2="354.46" stroke="#86b070" stroke-width="1.0"/>
<line x1="235.65" y1="345.45" x2="239.05" y2="345.45" stroke="#86b070" stroke-width="1.1"/>
<line x1="235.65" y1="354.46" x2="239.05" y2="354.46" stroke="#86b070" stroke-width="1.1"/>
<polyline points="43.75,430.80 61.35,434.30 78.95,435.98 96.55,415.49 114.15,410.09 131.75,407.50 149.35,403.78 166.95,400.51 184.55,402.54 202.15,387.57 219.75,391.28 237.35,392.97" fill="none" stroke="#e2921c" stroke-width="1.8" stroke-linejoin="round"/>
<rect x="41.75" y="428.80" width="4" height="4" fill="#e2921c"/>
<rect x="59.35" y="432.30" width="4" height="4" fill="#e2921c"/>
<rect x="76.95" y="433.98" width="4" height="4" fill="#e2921c"/>
<rect x="94.55" y="413.49" width="4" height="4" fill="#e2921c"/>
<rect x="112.15" y="408.09" width="4" height="4" fill="#e2921c"/>
<rect x="129.75" y="405.50" width="4" height="4" fill="#e2921c"/>
<rect x="147.35" y="401.78" width="4" height="4" fill="#e2921c"/>
<rect x="164.95" y="398.51" width="4" height="4" fill="#e2921c"/>
<rect x="182.55" y="400.54" width="4" height="4" fill="#e2921c"/>
<rect x="200.15" y="385.57" width="4" height="4" fill="#e2921c"/>
<rect x="217.75" y="389.28" width="4" height="4" fill="#e2921c"/>
<rect x="235.35" y="390.97" width="4" height="4" fill="#e2921c"/>
<line x1="43.75" y1="427.43" x2="43.75" y2="434.18" stroke="#d9962e" stroke-width="1.0"/>
<line x1="42.05" y1="427.43" x2="45.45" y2="427.43" stroke="#d9962e" stroke-width="1.1"/>
<line x1="42.05" y1="434.18" x2="45.45" y2="434.18" stroke="#d9962e" stroke-width="1.1"/>
<line x1="61.35" y1="430.92" x2="61.35" y2="437.67" stroke="#d9962e" stroke-width="1.0"/>
<line x1="59.65" y1="430.92" x2="63.05" y2="430.92" stroke="#d9962e" stroke-width="1.1"/>
<line x1="59.65" y1="437.67" x2="63.05" y2="437.67" stroke="#d9962e" stroke-width="1.1"/>
<line x1="78.95" y1="432.61" x2="78.95" y2="439.36" stroke="#d9962e" stroke-width="1.0"/>
<line x1="77.25" y1="432.61" x2="80.65" y2="432.61" stroke="#d9962e" stroke-width="1.1"/>
<line x1="77.25" y1="439.36" x2="80.65" y2="439.36" stroke="#d9962e" stroke-width="1.1"/>
<line x1="96.55" y1="410.99" x2="96.55" y2="419.99" stroke="#d9962e" stroke-width="1.0"/>
<line x1="94.85" y1="410.99" x2="98.25" y2="410.99" stroke="#d9962e" stroke-width="1.1"/>
<line x1="94.85" y1="419.99" x2="98.25" y2="419.99" stroke="#d9962e" stroke-width="1.1"/>
<line x1="114.15" y1="401.08" x2="114.15" y2="419.09" stroke="#d9962e" stroke-width="1.0"/>
<line x1="112.45" y1="401.08" x2="115.85" y2="401.08" stroke="#d9962e" stroke-width="1.1"/>
<line x1="112.45" y1="419.09" x2="115.85" y2="419.09" stroke="#d9962e" stroke-width="1.1"/>
<line x1="131.75" y1="398.49" x2="131.75" y2="416.50" stroke="#d9962e" stroke-width="1.0"/>
<line x1="130.05" y1="398.49" x2="133.45" y2="398.49" stroke="#d9962e" stroke-width="1.1"/>
<line x1="130.05" y1="416.50" x2="133.45" y2="416.50" stroke="#d9962e" stroke-width="1.1"/>
<line x1="149.35" y1="392.52" x2="149.35" y2="415.04" stroke="#d9962e" stroke-width="1.0"/>
<line x1="147.65" y1="392.52" x2="151.05" y2="392.52" stroke="#d9962e" stroke-width="1.1"/>
<line x1="147.65" y1="415.04" x2="151.05" y2="415.04" stroke="#d9962e" stroke-width="1.1"/>
<line x1="166.95" y1="389.25" x2="166.95" y2="411.77" stroke="#d9962e" stroke-width="1.0"/>
<line x1="165.25" y1="389.25" x2="168.65" y2="389.25" stroke="#d9962e" stroke-width="1.1"/>
<line x1="165.25" y1="411.77" x2="168.65" y2="411.77" stroke="#d9962e" stroke-width="1.1"/>
<line x1="184.55" y1="391.28" x2="184.55" y2="413.80" stroke="#d9962e" stroke-width="1.0"/>
<line x1="182.85" y1="391.28" x2="186.25" y2="391.28" stroke="#d9962e" stroke-width="1.1"/>
<line x1="182.85" y1="413.80" x2="186.25" y2="413.80" stroke="#d9962e" stroke-width="1.1"/>
<line x1="202.15" y1="376.31" x2="202.15" y2="398.83" stroke="#d9962e" stroke-width="1.0"/>
<line x1="200.45" y1="376.31" x2="203.85" y2="376.31" stroke="#d9962e" stroke-width="1.1"/>
<line x1="200.45" y1="398.83" x2="203.85" y2="398.83" stroke="#d9962e" stroke-width="1.1"/>
<line x1="219.75" y1="383.40" x2="219.75" y2="399.16" stroke="#d9962e" stroke-width="1.0"/>
<line x1="218.05" y1="383.40" x2="221.45" y2="383.40" stroke="#d9962e" stroke-width="1.1"/>
<line x1="218.05" y1="399.16" x2="221.45" y2="399.16" stroke="#d9962e" stroke-width="1.1"/>
<line x1="237.35" y1="385.09" x2="237.35" y2="400.85" stroke="#d9962e" stroke-width="1.0"/>
<line x1="235.65" y1="385.09" x2="239.05" y2="385.09" stroke="#d9962e" stroke-width="1.1"/>
<line x1="235.65" y1="400.85" x2="239.05" y2="400.85" stroke="#d9962e" stroke-width="1.1"/>
<polyline points="43.75,429.12 61.35,432.94 78.95,434.63 96.55,408.96 114.15,409.30 131.75,407.95 149.35,387.57 166.95,388.24 184.55,387.57 202.15,383.74 219.75,379.46 237.35,389.48" fill="none" stroke="#356b4c" stroke-width="1.8" stroke-linejoin="round"/>
<circle cx="43.75" cy="429.12" r="2.0" fill="#356b4c"/>
<circle cx="61.35" cy="432.94" r="2.0" fill="#356b4c"/>
<circle cx="78.95" cy="434.63" r="2.0" fill="#356b4c"/>
<circle cx="96.55" cy="408.96" r="2.0" fill="#356b4c"/>
<circle cx="114.15" cy="409.30" r="2.0" fill="#356b4c"/>
<circle cx="131.75" cy="407.95" r="2.0" fill="#356b4c"/>
<circle cx="149.35" cy="387.57" r="2.0" fill="#356b4c"/>
<circle cx="166.95" cy="388.24" r="2.0" fill="#356b4c"/>
<circle cx="184.55" cy="387.57" r="2.0" fill="#356b4c"/>
<circle cx="202.15" cy="383.74" r="2.0" fill="#356b4c"/>
<circle cx="219.75" cy="379.46" r="2.0" fill="#356b4c"/>
<circle cx="237.35" cy="389.48" r="2.0" fill="#356b4c"/>
<line x1="43.75" y1="426.86" x2="43.75" y2="431.37" stroke="#2e5a42" stroke-width="1.0"/>
<line x1="42.05" y1="426.86" x2="45.45" y2="426.86" stroke="#2e5a42" stroke-width="1.1"/>
<line x1="42.05" y1="431.37" x2="45.45" y2="431.37" stroke="#2e5a42" stroke-width="1.1"/>
<line x1="61.35" y1="430.69" x2="61.35" y2="435.20" stroke="#2e5a42" stroke-width="1.0"/>
<line x1="59.65" y1="430.69" x2="63.05" y2="430.69" stroke="#2e5a42" stroke-width="1.1"/>
<line x1="59.65" y1="435.20" x2="63.05" y2="435.20" stroke="#2e5a42" stroke-width="1.1"/>
<line x1="78.95" y1="432.38" x2="78.95" y2="436.88" stroke="#2e5a42" stroke-width="1.0"/>
<line x1="77.25" y1="432.38" x2="80.65" y2="432.38" stroke="#2e5a42" stroke-width="1.1"/>
<line x1="77.25" y1="436.88" x2="80.65" y2="436.88" stroke="#2e5a42" stroke-width="1.1"/>
<line x1="96.55" y1="404.46" x2="96.55" y2="413.46" stroke="#2e5a42" stroke-width="1.0"/>
<line x1="94.85" y1="404.46" x2="98.25" y2="404.46" stroke="#2e5a42" stroke-width="1.1"/>
<line x1="94.85" y1="413.46" x2="98.25" y2="413.46" stroke="#2e5a42" stroke-width="1.1"/>
<line x1="114.15" y1="404.79" x2="114.15" y2="413.80" stroke="#2e5a42" stroke-width="1.0"/>
<line x1="112.45" y1="404.79" x2="115.85" y2="404.79" stroke="#2e5a42" stroke-width="1.1"/>
<line x1="112.45" y1="413.80" x2="115.85" y2="413.80" stroke="#2e5a42" stroke-width="1.1"/>
<line x1="131.75" y1="403.44" x2="131.75" y2="412.45" stroke="#2e5a42" stroke-width="1.0"/>
<line x1="130.05" y1="403.44" x2="133.45" y2="403.44" stroke="#2e5a42" stroke-width="1.1"/>
<line x1="130.05" y1="412.45" x2="133.45" y2="412.45" stroke="#2e5a42" stroke-width="1.1"/>
<line x1="149.35" y1="384.19" x2="149.35" y2="390.94" stroke="#2e5a42" stroke-width="1.0"/>
<line x1="147.65" y1="384.19" x2="151.05" y2="384.19" stroke="#2e5a42" stroke-width="1.1"/>
<line x1="147.65" y1="390.94" x2="151.05" y2="390.94" stroke="#2e5a42" stroke-width="1.1"/>
<line x1="166.95" y1="384.86" x2="166.95" y2="391.62" stroke="#2e5a42" stroke-width="1.0"/>
<line x1="165.25" y1="384.86" x2="168.65" y2="384.86" stroke="#2e5a42" stroke-width="1.1"/>
<line x1="165.25" y1="391.62" x2="168.65" y2="391.62" stroke="#2e5a42" stroke-width="1.1"/>
<line x1="184.55" y1="384.19" x2="184.55" y2="390.94" stroke="#2e5a42" stroke-width="1.0"/>
<line x1="182.85" y1="384.19" x2="186.25" y2="384.19" stroke="#2e5a42" stroke-width="1.1"/>
<line x1="182.85" y1="390.94" x2="186.25" y2="390.94" stroke="#2e5a42" stroke-width="1.1"/>
<line x1="202.15" y1="378.11" x2="202.15" y2="389.37" stroke="#2e5a42" stroke-width="1.0"/>
<line x1="200.45" y1="378.11" x2="203.85" y2="378.11" stroke="#2e5a42" stroke-width="1.1"/>
<line x1="200.45" y1="389.37" x2="203.85" y2="389.37" stroke="#2e5a42" stroke-width="1.1"/>
<line x1="219.75" y1="374.95" x2="219.75" y2="383.96" stroke="#2e5a42" stroke-width="1.0"/>
<line x1="218.05" y1="374.95" x2="221.45" y2="374.95" stroke="#2e5a42" stroke-width="1.1"/>
<line x1="218.05" y1="383.96" x2="221.45" y2="383.96" stroke="#2e5a42" stroke-width="1.1"/>
<line x1="237.35" y1="384.98" x2="237.35" y2="393.98" stroke="#2e5a42" stroke-width="1.0"/>
<line x1="235.65" y1="384.98" x2="239.05" y2="384.98" stroke="#2e5a42" stroke-width="1.1"/>
<line x1="235.65" y1="393.98" x2="239.05" y2="393.98" stroke="#2e5a42" stroke-width="1.1"/>
<polyline points="43.75,397.14 61.35,411.55 78.95,414.93 96.55,392.07 114.15,378.22 131.75,378.00 149.35,351.20 166.95,340.72 184.55,338.25 202.15,336.90 219.75,338.02 237.35,342.98" fill="none" stroke="#b3002f" stroke-width="1.8" stroke-linejoin="round"/>
<circle cx="43.75" cy="397.14" r="2.1" fill="#b3002f"/>
<circle cx="61.35" cy="411.55" r="2.1" fill="#b3002f"/>
<circle cx="78.95" cy="414.93" r="2.1" fill="#b3002f"/>
<circle cx="96.55" cy="392.07" r="2.1" fill="#b3002f"/>
<circle cx="114.15" cy="378.22" r="2.1" fill="#b3002f"/>
<circle cx="131.75" cy="378.00" r="2.1" fill="#b3002f"/>
<circle cx="149.35" cy="351.20" r="2.1" fill="#b3002f"/>
<circle cx="166.95" cy="340.72" r="2.1" fill="#b3002f"/>
<circle cx="184.55" cy="338.25" r="2.1" fill="#b3002f"/>
<circle cx="202.15" cy="336.90" r="2.1" fill="#b3002f"/>
<circle cx="219.75" cy="338.02" r="2.1" fill="#b3002f"/>
<circle cx="237.35" cy="342.98" r="2.1" fill="#b3002f"/>
<line x1="43.75" y1="392.63" x2="43.75" y2="401.64" stroke="#a01638" stroke-width="1.0"/>
<line x1="42.05" y1="392.63" x2="45.45" y2="392.63" stroke="#a01638" stroke-width="1.1"/>
<line x1="42.05" y1="401.64" x2="45.45" y2="401.64" stroke="#a01638" stroke-width="1.1"/>
<line x1="61.35" y1="408.17" x2="61.35" y2="414.93" stroke="#a01638" stroke-width="1.0"/>
<line x1="59.65" y1="408.17" x2="63.05" y2="408.17" stroke="#a01638" stroke-width="1.1"/>
<line x1="59.65" y1="414.93" x2="63.05" y2="414.93" stroke="#a01638" stroke-width="1.1"/>
<line x1="78.95" y1="411.55" x2="78.95" y2="418.31" stroke="#a01638" stroke-width="1.0"/>
<line x1="77.25" y1="411.55" x2="80.65" y2="411.55" stroke="#a01638" stroke-width="1.1"/>
<line x1="77.25" y1="418.31" x2="80.65" y2="418.31" stroke="#a01638" stroke-width="1.1"/>
<line x1="96.55" y1="385.31" x2="96.55" y2="398.83" stroke="#a01638" stroke-width="1.0"/>
<line x1="94.85" y1="385.31" x2="98.25" y2="385.31" stroke="#a01638" stroke-width="1.1"/>
<line x1="94.85" y1="398.83" x2="98.25" y2="398.83" stroke="#a01638" stroke-width="1.1"/>
<line x1="114.15" y1="372.59" x2="114.15" y2="383.85" stroke="#a01638" stroke-width="1.0"/>
<line x1="112.45" y1="372.59" x2="115.85" y2="372.59" stroke="#a01638" stroke-width="1.1"/>
<line x1="112.45" y1="383.85" x2="115.85" y2="383.85" stroke="#a01638" stroke-width="1.1"/>
<line x1="131.75" y1="373.49" x2="131.75" y2="382.50" stroke="#a01638" stroke-width="1.0"/>
<line x1="130.05" y1="373.49" x2="133.45" y2="373.49" stroke="#a01638" stroke-width="1.1"/>
<line x1="130.05" y1="382.50" x2="133.45" y2="382.50" stroke="#a01638" stroke-width="1.1"/>
<line x1="149.35" y1="344.44" x2="149.35" y2="357.95" stroke="#a01638" stroke-width="1.0"/>
<line x1="147.65" y1="344.44" x2="151.05" y2="344.44" stroke="#a01638" stroke-width="1.1"/>
<line x1="147.65" y1="357.95" x2="151.05" y2="357.95" stroke="#a01638" stroke-width="1.1"/>
<line x1="166.95" y1="335.09" x2="166.95" y2="346.35" stroke="#a01638" stroke-width="1.0"/>
<line x1="165.25" y1="335.09" x2="168.65" y2="335.09" stroke="#a01638" stroke-width="1.1"/>
<line x1="165.25" y1="346.35" x2="168.65" y2="346.35" stroke="#a01638" stroke-width="1.1"/>
<line x1="184.55" y1="334.87" x2="184.55" y2="341.63" stroke="#a01638" stroke-width="1.0"/>
<line x1="182.85" y1="334.87" x2="186.25" y2="334.87" stroke="#a01638" stroke-width="1.1"/>
<line x1="182.85" y1="341.63" x2="186.25" y2="341.63" stroke="#a01638" stroke-width="1.1"/>
<line x1="202.15" y1="325.64" x2="202.15" y2="348.16" stroke="#a01638" stroke-width="1.0"/>
<line x1="200.45" y1="325.64" x2="203.85" y2="325.64" stroke="#a01638" stroke-width="1.1"/>
<line x1="200.45" y1="348.16" x2="203.85" y2="348.16" stroke="#a01638" stroke-width="1.1"/>
<line x1="219.75" y1="329.01" x2="219.75" y2="347.03" stroke="#a01638" stroke-width="1.0"/>
<line x1="218.05" y1="329.01" x2="221.45" y2="329.01" stroke="#a01638" stroke-width="1.1"/>
<line x1="218.05" y1="347.03" x2="221.45" y2="347.03" stroke="#a01638" stroke-width="1.1"/>
<line x1="237.35" y1="339.60" x2="237.35" y2="346.35" stroke="#a01638" stroke-width="1.0"/>
<line x1="235.65" y1="339.60" x2="239.05" y2="339.60" stroke="#a01638" stroke-width="1.1"/>
<line x1="235.65" y1="346.35" x2="239.05" y2="346.35" stroke="#a01638" stroke-width="1.1"/>
<polyline points="43.75,405.58 61.35,413.91 78.95,415.27 96.55,376.87 114.15,371.80 131.75,373.72 149.35,331.27 166.95,323.72 184.55,328.79 202.15,337.46 219.75,334.98 237.35,339.49" fill="none" stroke="#2c4a87" stroke-width="1.8" stroke-linejoin="round"/>
<path d="M41.75,403.58 L45.75,407.58 M45.75,403.58 L41.75,407.58" stroke="#2c4a87" stroke-width="1.4"/>
<path d="M59.35,411.91 L63.35,415.91 M63.35,411.91 L59.35,415.91" stroke="#2c4a87" stroke-width="1.4"/>
<path d="M76.95,413.27 L80.95,417.27 M80.95,413.27 L76.95,417.27" stroke="#2c4a87" stroke-width="1.4"/>
<path d="M94.55,374.87 L98.55,378.87 M98.55,374.87 L94.55,378.87" stroke="#2c4a87" stroke-width="1.4"/>
<path d="M112.15,369.80 L116.15,373.80 M116.15,369.80 L112.15,373.80" stroke="#2c4a87" stroke-width="1.4"/>
<path d="M129.75,371.72 L133.75,375.72 M133.75,371.72 L129.75,375.72" stroke="#2c4a87" stroke-width="1.4"/>
<path d="M147.35,329.27 L151.35,333.27 M151.35,329.27 L147.35,333.27" stroke="#2c4a87" stroke-width="1.4"/>
<path d="M164.95,321.72 L168.95,325.72 M168.95,321.72 L164.95,325.72" stroke="#2c4a87" stroke-width="1.4"/>
<path d="M182.55,326.79 L186.55,330.79 M186.55,326.79 L182.55,330.79" stroke="#2c4a87" stroke-width="1.4"/>
<path d="M200.15,335.46 L204.15,339.46 M204.15,335.46 L200.15,339.46" stroke="#2c4a87" stroke-width="1.4"/>
<path d="M217.75,332.98 L221.75,336.98 M221.75,332.98 L217.75,336.98" stroke="#2c4a87" stroke-width="1.4"/>
<path d="M235.35,337.49 L239.35,341.49 M239.35,337.49 L235.35,341.49" stroke="#2c4a87" stroke-width="1.4"/>
<line x1="43.75" y1="401.08" x2="43.75" y2="410.09" stroke="#34507f" stroke-width="1.0"/>
<line x1="42.05" y1="401.08" x2="45.45" y2="401.08" stroke="#34507f" stroke-width="1.1"/>
<line x1="42.05" y1="410.09" x2="45.45" y2="410.09" stroke="#34507f" stroke-width="1.1"/>
<line x1="61.35" y1="409.41" x2="61.35" y2="418.42" stroke="#34507f" stroke-width="1.0"/>
<line x1="59.65" y1="409.41" x2="63.05" y2="409.41" stroke="#34507f" stroke-width="1.1"/>
<line x1="59.65" y1="418.42" x2="63.05" y2="418.42" stroke="#34507f" stroke-width="1.1"/>
<line x1="78.95" y1="411.89" x2="78.95" y2="418.64" stroke="#34507f" stroke-width="1.0"/>
<line x1="77.25" y1="411.89" x2="80.65" y2="411.89" stroke="#34507f" stroke-width="1.1"/>
<line x1="77.25" y1="418.64" x2="80.65" y2="418.64" stroke="#34507f" stroke-width="1.1"/>
<line x1="96.55" y1="370.11" x2="96.55" y2="383.62" stroke="#34507f" stroke-width="1.0"/>
<line x1="94.85" y1="370.11" x2="98.25" y2="370.11" stroke="#34507f" stroke-width="1.1"/>
<line x1="94.85" y1="383.62" x2="98.25" y2="383.62" stroke="#34507f" stroke-width="1.1"/>
<line x1="114.15" y1="366.17" x2="114.15" y2="377.43" stroke="#34507f" stroke-width="1.0"/>
<line x1="112.45" y1="366.17" x2="115.85" y2="366.17" stroke="#34507f" stroke-width="1.1"/>
<line x1="112.45" y1="377.43" x2="115.85" y2="377.43" stroke="#34507f" stroke-width="1.1"/>
<line x1="131.75" y1="368.09" x2="131.75" y2="379.35" stroke="#34507f" stroke-width="1.0"/>
<line x1="130.05" y1="368.09" x2="133.45" y2="368.09" stroke="#34507f" stroke-width="1.1"/>
<line x1="130.05" y1="379.35" x2="133.45" y2="379.35" stroke="#34507f" stroke-width="1.1"/>
<line x1="149.35" y1="325.64" x2="149.35" y2="336.90" stroke="#34507f" stroke-width="1.0"/>
<line x1="147.65" y1="325.64" x2="151.05" y2="325.64" stroke="#34507f" stroke-width="1.1"/>
<line x1="147.65" y1="336.90" x2="151.05" y2="336.90" stroke="#34507f" stroke-width="1.1"/>
<line x1="166.95" y1="319.22" x2="166.95" y2="328.23" stroke="#34507f" stroke-width="1.0"/>
<line x1="165.25" y1="319.22" x2="168.65" y2="319.22" stroke="#34507f" stroke-width="1.1"/>
<line x1="165.25" y1="328.23" x2="168.65" y2="328.23" stroke="#34507f" stroke-width="1.1"/>
<line x1="184.55" y1="323.16" x2="184.55" y2="334.42" stroke="#34507f" stroke-width="1.0"/>
<line x1="182.85" y1="323.16" x2="186.25" y2="323.16" stroke="#34507f" stroke-width="1.1"/>
<line x1="182.85" y1="334.42" x2="186.25" y2="334.42" stroke="#34507f" stroke-width="1.1"/>
<line x1="202.15" y1="331.83" x2="202.15" y2="343.09" stroke="#34507f" stroke-width="1.0"/>
<line x1="200.45" y1="331.83" x2="203.85" y2="331.83" stroke="#34507f" stroke-width="1.1"/>
<line x1="200.45" y1="343.09" x2="203.85" y2="343.09" stroke="#34507f" stroke-width="1.1"/>
<line x1="219.75" y1="329.35" x2="219.75" y2="340.61" stroke="#34507f" stroke-width="1.0"/>
<line x1="218.05" y1="329.35" x2="221.45" y2="329.35" stroke="#34507f" stroke-width="1.1"/>
<line x1="218.05" y1="340.61" x2="221.45" y2="340.61" stroke="#34507f" stroke-width="1.1"/>
<line x1="237.35" y1="336.11" x2="237.35" y2="342.86" stroke="#34507f" stroke-width="1.0"/>
<line x1="235.65" y1="336.11" x2="239.05" y2="336.11" stroke="#34507f" stroke-width="1.1"/>
<line x1="235.65" y1="342.86" x2="239.05" y2="342.86" stroke="#34507f" stroke-width="1.1"/>
<text x="85.30" y="291.90" font-size="8.1" text-anchor="middle" fill="#404040" textLength="38" lengthAdjust="spacingAndGlyphs">Oligomycin</text>
<line x1="85.30" y1="297.20" x2="85.30" y2="308.30" stroke="#111" stroke-width="1.3"/>
<path d="M82.70,306.80 L87.90,306.80 L85.30,312.30 Z" fill="#111"/>
<text x="130.00" y="291.90" font-size="8.1" text-anchor="middle" fill="#404040" textLength="21.6" lengthAdjust="spacingAndGlyphs">FCCP</text>
<line x1="130.00" y1="297.20" x2="130.00" y2="308.30" stroke="#111" stroke-width="1.3"/>
<path d="M127.40,306.80 L132.60,306.80 L130.00,312.30 Z" fill="#111"/>
<text x="200.50" y="291.90" font-size="8.1" text-anchor="middle" fill="#404040" textLength="27.8" lengthAdjust="spacingAndGlyphs">Rot/Myx</text>
<line x1="200.50" y1="297.20" x2="200.50" y2="308.30" stroke="#111" stroke-width="1.3"/>
<path d="M197.90,306.80 L203.10,306.80 L200.50,312.30 Z" fill="#111"/>
<text transform="translate(13.40,367.40) rotate(-90)" x="0" y="0" font-size="10.6" letter-spacing="0.4" text-anchor="middle" fill="#222" stroke="#222" stroke-width="0.3" textLength="56" lengthAdjust="spacingAndGlyphs" dy="3">ECAR (mpH/min)</text>
<text x="155.40" y="482.20" font-size="10.2" text-anchor="middle" fill="#222" textLength="34.5" lengthAdjust="spacingAndGlyphs" stroke="#222" stroke-width="0.4" letter-spacing="0.5">Time (min)</text>
<rect x="317.85" y="182.89" width="7.10" height="48.51" fill="#356b4c"/>
<line x1="321.40" y1="182.89" x2="321.40" y2="177.92" stroke="#356b4c" stroke-width="1.0"/>
<line x1="319.60" y1="177.92" x2="323.20" y2="177.92" stroke="#356b4c" stroke-width="1.0"/>
<rect x="326.65" y="151.94" width="7.10" height="79.46" fill="#2c4a87"/>
<line x1="330.20" y1="151.94" x2="330.20" y2="146.98" stroke="#2c4a87" stroke-width="1.0"/>
<line x1="328.40" y1="146.98" x2="332.00" y2="146.98" stroke="#2c4a87" stroke-width="1.0"/>
<rect x="335.45" y="134.75" width="7.10" height="96.65" fill="#b3002f"/>
<line x1="339.00" y1="134.75" x2="339.00" y2="131.32" stroke="#b3002f" stroke-width="1.0"/>
<line x1="337.20" y1="131.32" x2="340.80" y2="131.32" stroke="#b3002f" stroke-width="1.0"/>
<rect x="344.25" y="121.00" width="7.10" height="110.40" fill="#6aad3d"/>
<line x1="347.80" y1="121.00" x2="347.80" y2="117.95" stroke="#6aad3d" stroke-width="1.0"/>
<line x1="346.00" y1="117.95" x2="349.60" y2="117.95" stroke="#6aad3d" stroke-width="1.0"/>
<rect x="353.05" y="176.01" width="7.10" height="55.39" fill="#e2921c"/>
<line x1="356.60" y1="176.01" x2="356.60" y2="167.99" stroke="#e2921c" stroke-width="1.0"/>
<line x1="354.80" y1="167.99" x2="358.40" y2="167.99" stroke="#e2921c" stroke-width="1.0"/>
<circle cx="330.20" cy="142.60" r="1.15" fill="#222"/>
<text x="339.00" y="127.30" font-size="7.2" text-anchor="middle" fill="#1a1a1a" font-weight="bold" font-style="italic">#</text>
<text x="347.80" y="113.60" font-size="7.2" text-anchor="middle" fill="#1a1a1a" font-weight="bold" font-style="italic">#</text>
<line x1="339.00" y1="231.40" x2="339.00" y2="234.90" stroke="#111" stroke-width="1.3"/>
<text x="339.00" y="245.90" font-size="8.6" text-anchor="middle" fill="#404040">Basal</text>
<rect x="367.45" y="206.19" width="7.10" height="25.21" fill="#356b4c"/>
<line x1="371.00" y1="206.19" x2="371.00" y2="205.42" stroke="#356b4c" stroke-width="1.0"/>
<line x1="369.20" y1="205.42" x2="372.80" y2="205.42" stroke="#356b4c" stroke-width="1.0"/>
<rect x="376.25" y="190.14" width="7.10" height="41.26" fill="#2c4a87"/>
<line x1="379.80" y1="190.14" x2="379.80" y2="188.62" stroke="#2c4a87" stroke-width="1.0"/>
<line x1="378.00" y1="188.62" x2="381.60" y2="188.62" stroke="#2c4a87" stroke-width="1.0"/>
<rect x="385.05" y="185.56" width="7.10" height="45.84" fill="#b3002f"/>
<line x1="388.60" y1="185.56" x2="388.60" y2="184.41" stroke="#b3002f" stroke-width="1.0"/>
<line x1="386.80" y1="184.41" x2="390.40" y2="184.41" stroke="#b3002f" stroke-width="1.0"/>
<rect x="393.85" y="162.64" width="7.10" height="68.76" fill="#6aad3d"/>
<line x1="397.40" y1="162.64" x2="397.40" y2="161.49" stroke="#6aad3d" stroke-width="1.0"/>
<line x1="395.60" y1="161.49" x2="399.20" y2="161.49" stroke="#6aad3d" stroke-width="1.0"/>
<rect x="402.65" y="208.10" width="7.10" height="23.30" fill="#e2921c"/>
<line x1="406.20" y1="208.10" x2="406.20" y2="203.51" stroke="#e2921c" stroke-width="1.0"/>
<line x1="404.40" y1="203.51" x2="408.00" y2="203.51" stroke="#e2921c" stroke-width="1.0"/>
<circle cx="379.80" cy="185.20" r="1.15" fill="#222"/>
<text x="397.40" y="158.60" font-size="7.2" text-anchor="middle" fill="#1a1a1a" font-weight="bold" font-style="italic">#</text>
<line x1="388.60" y1="231.40" x2="388.60" y2="234.90" stroke="#111" stroke-width="1.3"/>
<text x="388.60" y="245.90" font-size="8.6" text-anchor="middle" fill="#404040">Oligomycin</text>
<rect x="417.25" y="182.89" width="7.10" height="48.51" fill="#356b4c"/>
<line x1="420.80" y1="182.89" x2="420.80" y2="180.21" stroke="#356b4c" stroke-width="1.0"/>
<line x1="419.00" y1="180.21" x2="422.60" y2="180.21" stroke="#356b4c" stroke-width="1.0"/>
<rect x="426.05" y="151.18" width="7.10" height="80.22" fill="#2c4a87"/>
<line x1="429.60" y1="151.18" x2="429.60" y2="148.51" stroke="#2c4a87" stroke-width="1.0"/>
<line x1="427.80" y1="148.51" x2="431.40" y2="148.51" stroke="#2c4a87" stroke-width="1.0"/>
<rect x="434.85" y="125.59" width="7.10" height="105.81" fill="#b3002f"/>
<line x1="438.40" y1="125.59" x2="438.40" y2="122.53" stroke="#b3002f" stroke-width="1.0"/>
<line x1="436.60" y1="122.53" x2="440.20" y2="122.53" stroke="#b3002f" stroke-width="1.0"/>
<rect x="443.65" y="98.46" width="7.10" height="132.94" fill="#6aad3d"/>
<line x1="447.20" y1="98.46" x2="447.20" y2="96.55" stroke="#6aad3d" stroke-width="1.0"/>
<line x1="445.40" y1="96.55" x2="449.00" y2="96.55" stroke="#6aad3d" stroke-width="1.0"/>
<rect x="452.45" y="176.01" width="7.10" height="55.39" fill="#e2921c"/>
<line x1="456.00" y1="176.01" x2="456.00" y2="169.52" stroke="#e2921c" stroke-width="1.0"/>
<line x1="454.20" y1="169.52" x2="457.80" y2="169.52" stroke="#e2921c" stroke-width="1.0"/>
<circle cx="429.60" cy="144.30" r="1.15" fill="#222"/>
<text x="438.40" y="118.50" font-size="7.2" text-anchor="middle" fill="#1a1a1a" font-weight="bold" font-style="italic">#</text>
<text x="447.20" y="92.50" font-size="7.2" text-anchor="middle" fill="#1a1a1a" font-weight="bold" font-style="italic">#</text>
<line x1="438.40" y1="231.40" x2="438.40" y2="234.90" stroke="#111" stroke-width="1.3"/>
<text x="438.40" y="245.90" font-size="8.6" text-anchor="middle" fill="#404040">FCCP</text>
<rect x="466.95" y="218.79" width="7.10" height="12.61" fill="#356b4c"/>
<line x1="470.50" y1="218.79" x2="470.50" y2="218.03" stroke="#356b4c" stroke-width="1.0"/>
<line x1="468.70" y1="218.03" x2="472.30" y2="218.03" stroke="#356b4c" stroke-width="1.0"/>
<rect x="475.75" y="207.53" width="7.10" height="23.88" fill="#2c4a87"/>
<line x1="479.30" y1="207.53" x2="479.30" y2="206.76" stroke="#2c4a87" stroke-width="1.0"/>
<line x1="477.50" y1="206.76" x2="481.10" y2="206.76" stroke="#2c4a87" stroke-width="1.0"/>
<rect x="484.55" y="212.68" width="7.10" height="18.72" fill="#b3002f"/>
<line x1="488.10" y1="212.68" x2="488.10" y2="212.30" stroke="#b3002f" stroke-width="1.0"/>
<line x1="486.30" y1="212.30" x2="489.90" y2="212.30" stroke="#b3002f" stroke-width="1.0"/>
<rect x="493.35" y="199.69" width="7.10" height="31.71" fill="#6aad3d"/>
<line x1="496.90" y1="199.69" x2="496.90" y2="198.93" stroke="#6aad3d" stroke-width="1.0"/>
<line x1="495.10" y1="198.93" x2="498.70" y2="198.93" stroke="#6aad3d" stroke-width="1.0"/>
<rect x="502.15" y="215.55" width="7.10" height="15.85" fill="#e2921c"/>
<line x1="505.70" y1="215.55" x2="505.70" y2="214.40" stroke="#e2921c" stroke-width="1.0"/>
<line x1="503.90" y1="214.40" x2="507.50" y2="214.40" stroke="#e2921c" stroke-width="1.0"/>
<line x1="488.10" y1="231.40" x2="488.10" y2="234.90" stroke="#111" stroke-width="1.3"/>
<text x="488.10" y="245.90" font-size="8.6" text-anchor="middle" fill="#404040">Rot/Myx</text>
<line x1="315.50" y1="76.30" x2="315.50" y2="232.15" stroke="#111" stroke-width="1.6"/>
<line x1="312.00" y1="231.40" x2="512.60" y2="231.40" stroke="#111" stroke-width="1.6"/>
<line x1="312.00" y1="78.60" x2="315.50" y2="78.60" stroke="#111" stroke-width="1.3"/>
<text x="308.80" y="81.70" font-size="8.6" text-anchor="end" fill="#404040">400</text>
<line x1="312.00" y1="116.80" x2="315.50" y2="116.80" stroke="#111" stroke-width="1.3"/>
<text x="308.80" y="119.90" font-size="8.6" text-anchor="end" fill="#404040">300</text>
<line x1="312.00" y1="155.00" x2="315.50" y2="155.00" stroke="#111" stroke-width="1.3"/>
<text x="308.80" y="158.10" font-size="8.6" text-anchor="end" fill="#404040">200</text>
<line x1="312.00" y1="193.20" x2="315.50" y2="193.20" stroke="#111" stroke-width="1.3"/>
<text x="308.80" y="196.30" font-size="8.6" text-anchor="end" fill="#404040">100</text>
<line x1="312.00" y1="231.40" x2="315.50" y2="231.40" stroke="#111" stroke-width="1.3"/>
<text x="308.80" y="234.50" font-size="8.6" text-anchor="end" fill="#404040">0</text>
<text transform="translate(284.6,153.70) rotate(-90)" x="0" y="0" font-size="10.6" letter-spacing="0.4" text-anchor="middle" fill="#222" stroke="#222" stroke-width="0.3" textLength="58.6" lengthAdjust="spacingAndGlyphs" dy="3">OCR (pmoles/min)</text>
<rect x="317.85" y="433.29" width="7.10" height="19.91" fill="#356b4c"/>
<line x1="321.40" y1="433.29" x2="321.40" y2="432.27" stroke="#356b4c" stroke-width="1.0"/>
<line x1="319.60" y1="432.27" x2="323.20" y2="432.27" stroke="#356b4c" stroke-width="1.0"/>
<rect x="326.65" y="414.80" width="7.10" height="38.40" fill="#2c4a87"/>
<line x1="330.20" y1="414.80" x2="330.20" y2="412.56" stroke="#2c4a87" stroke-width="1.0"/>
<line x1="328.40" y1="412.56" x2="332.00" y2="412.56" stroke="#2c4a87" stroke-width="1.0"/>
<rect x="335.45" y="412.05" width="7.10" height="41.15" fill="#b3002f"/>
<line x1="339.00" y1="412.05" x2="339.00" y2="407.48" stroke="#b3002f" stroke-width="1.0"/>
<line x1="337.20" y1="407.48" x2="340.80" y2="407.48" stroke="#b3002f" stroke-width="1.0"/>
<rect x="344.25" y="414.80" width="7.10" height="38.40" fill="#6aad3d"/>
<line x1="347.80" y1="414.80" x2="347.80" y2="412.26" stroke="#6aad3d" stroke-width="1.0"/>
<line x1="346.00" y1="412.26" x2="349.60" y2="412.26" stroke="#6aad3d" stroke-width="1.0"/>
<rect x="353.05" y="434.91" width="7.10" height="18.29" fill="#e2921c"/>
<line x1="356.60" y1="434.91" x2="356.60" y2="431.86" stroke="#e2921c" stroke-width="1.0"/>
<line x1="354.80" y1="431.86" x2="358.40" y2="431.86" stroke="#e2921c" stroke-width="1.0"/>
<circle cx="339.00" cy="403.00" r="1.15" fill="#222"/>
<line x1="339.00" y1="453.20" x2="339.00" y2="456.70" stroke="#111" stroke-width="1.3"/>
<text x="339.00" y="467.50" font-size="8.6" text-anchor="middle" fill="#404040">Basal</text>
<rect x="367.45" y="412.56" width="7.10" height="40.64" fill="#356b4c"/>
<line x1="371.00" y1="412.56" x2="371.00" y2="411.54" stroke="#356b4c" stroke-width="1.0"/>
<line x1="369.20" y1="411.54" x2="372.80" y2="411.54" stroke="#356b4c" stroke-width="1.0"/>
<rect x="376.25" y="381.27" width="7.10" height="71.93" fill="#2c4a87"/>
<line x1="379.80" y1="381.27" x2="379.80" y2="379.44" stroke="#2c4a87" stroke-width="1.0"/>
<line x1="378.00" y1="379.44" x2="381.60" y2="379.44" stroke="#2c4a87" stroke-width="1.0"/>
<rect x="385.05" y="388.68" width="7.10" height="64.52" fill="#b3002f"/>
<line x1="388.60" y1="388.68" x2="388.60" y2="384.82" stroke="#b3002f" stroke-width="1.0"/>
<line x1="386.80" y1="384.82" x2="390.40" y2="384.82" stroke="#b3002f" stroke-width="1.0"/>
<rect x="393.85" y="392.14" width="7.10" height="61.06" fill="#6aad3d"/>
<line x1="397.40" y1="392.14" x2="397.40" y2="389.60" stroke="#6aad3d" stroke-width="1.0"/>
<line x1="395.60" y1="389.60" x2="399.20" y2="389.60" stroke="#6aad3d" stroke-width="1.0"/>
<rect x="402.65" y="414.29" width="7.10" height="38.91" fill="#e2921c"/>
<line x1="406.20" y1="414.29" x2="406.20" y2="411.54" stroke="#e2921c" stroke-width="1.0"/>
<line x1="404.40" y1="411.54" x2="408.00" y2="411.54" stroke="#e2921c" stroke-width="1.0"/>
<circle cx="379.80" cy="375.70" r="1.15" fill="#222"/>
<text x="397.40" y="385.60" font-size="7.2" text-anchor="middle" fill="#1a1a1a" font-weight="bold" font-style="italic">#</text>
<line x1="388.60" y1="453.20" x2="388.60" y2="456.70" stroke="#111" stroke-width="1.3"/>
<text x="388.60" y="467.50" font-size="8.6" text-anchor="middle" fill="#404040">Oligomycin</text>
<rect x="417.25" y="393.97" width="7.10" height="59.23" fill="#356b4c"/>
<line x1="420.80" y1="393.97" x2="420.80" y2="392.95" stroke="#356b4c" stroke-width="1.0"/>
<line x1="419.00" y1="392.95" x2="422.60" y2="392.95" stroke="#356b4c" stroke-width="1.0"/>
<rect x="426.05" y="340.02" width="7.10" height="113.18" fill="#2c4a87"/>
<line x1="429.60" y1="340.02" x2="429.60" y2="338.39" stroke="#2c4a87" stroke-width="1.0"/>
<line x1="427.80" y1="338.39" x2="431.40" y2="338.39" stroke="#2c4a87" stroke-width="1.0"/>
<rect x="434.85" y="353.02" width="7.10" height="100.18" fill="#b3002f"/>
<line x1="438.40" y1="353.02" x2="438.40" y2="350.18" stroke="#b3002f" stroke-width="1.0"/>
<line x1="436.60" y1="350.18" x2="440.20" y2="350.18" stroke="#b3002f" stroke-width="1.0"/>
<rect x="443.65" y="368.87" width="7.10" height="84.33" fill="#6aad3d"/>
<line x1="447.20" y1="368.87" x2="447.20" y2="366.54" stroke="#6aad3d" stroke-width="1.0"/>
<line x1="445.40" y1="366.54" x2="449.00" y2="366.54" stroke="#6aad3d" stroke-width="1.0"/>
<rect x="452.45" y="406.87" width="7.10" height="46.33" fill="#e2921c"/>
<line x1="456.00" y1="406.87" x2="456.00" y2="395.19" stroke="#e2921c" stroke-width="1.0"/>
<line x1="454.20" y1="395.19" x2="457.80" y2="395.19" stroke="#e2921c" stroke-width="1.0"/>
<circle cx="429.60" cy="334.00" r="1.15" fill="#222"/>
<text x="438.40" y="345.80" font-size="7.2" text-anchor="middle" fill="#1a1a1a" font-weight="bold" font-style="italic">#</text>
<text x="447.20" y="362.60" font-size="7.2" text-anchor="middle" fill="#1a1a1a" font-weight="bold" font-style="italic">#</text>
<line x1="438.40" y1="453.20" x2="438.40" y2="456.70" stroke="#111" stroke-width="1.3"/>
<text x="438.40" y="467.50" font-size="8.6" text-anchor="middle" fill="#404040">FCCP</text>
<rect x="466.95" y="390.51" width="7.10" height="62.69" fill="#356b4c"/>
<line x1="470.50" y1="390.51" x2="470.50" y2="387.46" stroke="#356b4c" stroke-width="1.0"/>
<line x1="468.70" y1="387.46" x2="472.30" y2="387.46" stroke="#356b4c" stroke-width="1.0"/>
<rect x="475.75" y="347.74" width="7.10" height="105.46" fill="#2c4a87"/>
<line x1="479.30" y1="347.74" x2="479.30" y2="346.72" stroke="#2c4a87" stroke-width="1.0"/>
<line x1="477.50" y1="346.72" x2="481.10" y2="346.72" stroke="#2c4a87" stroke-width="1.0"/>
<rect x="484.55" y="348.55" width="7.10" height="104.65" fill="#b3002f"/>
<line x1="488.10" y1="348.55" x2="488.10" y2="347.54" stroke="#b3002f" stroke-width="1.0"/>
<line x1="486.30" y1="347.54" x2="489.90" y2="347.54" stroke="#b3002f" stroke-width="1.0"/>
<rect x="493.35" y="362.37" width="7.10" height="90.83" fill="#6aad3d"/>
<line x1="496.90" y1="362.37" x2="496.90" y2="360.85" stroke="#6aad3d" stroke-width="1.0"/>
<line x1="495.10" y1="360.85" x2="498.70" y2="360.85" stroke="#6aad3d" stroke-width="1.0"/>
<rect x="502.15" y="396.30" width="7.10" height="56.90" fill="#e2921c"/>
<line x1="505.70" y1="396.30" x2="505.70" y2="387.46" stroke="#e2921c" stroke-width="1.0"/>
<line x1="503.90" y1="387.46" x2="507.50" y2="387.46" stroke="#e2921c" stroke-width="1.0"/>
<circle cx="479.30" cy="342.40" r="1.15" fill="#222"/>
<text x="496.90" y="357.60" font-size="7.2" text-anchor="middle" fill="#1a1a1a" font-weight="bold" font-style="italic">#</text>
<line x1="488.10" y1="453.20" x2="488.10" y2="456.70" stroke="#111" stroke-width="1.3"/>
<text x="488.10" y="467.50" font-size="8.6" text-anchor="middle" fill="#404040">Rot/Myx</text>
<line x1="315.50" y1="298.00" x2="315.50" y2="453.95" stroke="#111" stroke-width="1.6"/>
<line x1="312.00" y1="453.20" x2="512.60" y2="453.20" stroke="#111" stroke-width="1.6"/>
<line x1="312.00" y1="300.80" x2="315.50" y2="300.80" stroke="#111" stroke-width="1.3"/>
<text x="308.80" y="303.90" font-size="8.6" text-anchor="end" fill="#404040">150</text>
<line x1="312.00" y1="351.60" x2="315.50" y2="351.60" stroke="#111" stroke-width="1.3"/>
<text x="308.80" y="354.70" font-size="8.6" text-anchor="end" fill="#404040">100</text>
<line x1="312.00" y1="402.40" x2="315.50" y2="402.40" stroke="#111" stroke-width="1.3"/>
<text x="308.80" y="405.50" font-size="8.6" text-anchor="end" fill="#404040">50</text>
<line x1="312.00" y1="453.20" x2="315.50" y2="453.20" stroke="#111" stroke-width="1.3"/>
<text x="308.80" y="456.30" font-size="8.6" text-anchor="end" fill="#404040">0</text>
<text transform="translate(284.6,368.30) rotate(-90)" x="0" y="0" font-size="10.6" letter-spacing="0.4" text-anchor="middle" fill="#222" stroke="#222" stroke-width="0.3" textLength="54.2" lengthAdjust="spacingAndGlyphs" dy="3">ECAR (mpH/min)</text>
</svg>
<div id="frame"></div>
</div></body></html>
